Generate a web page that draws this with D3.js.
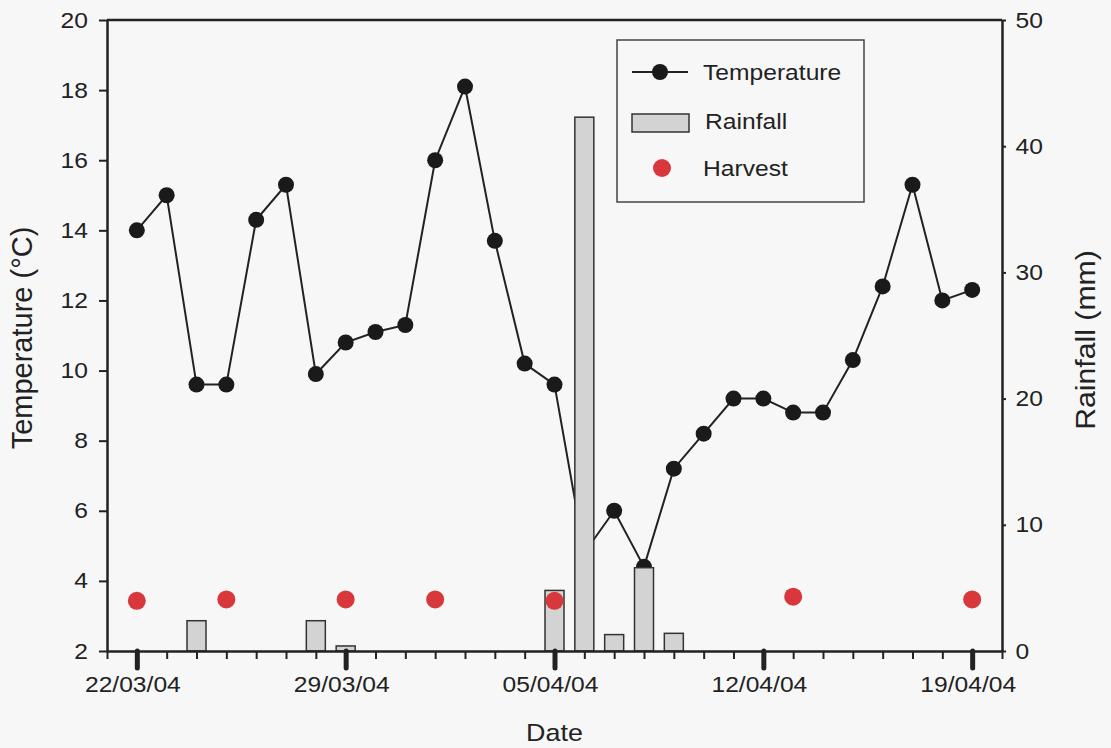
<!DOCTYPE html>
<html>
<head>
<meta charset="utf-8">
<script src="https://d3js.org/d3.v7.min.js"></script>
<style>
  body { margin: 0; background-color: #f7f7f7; }
  svg { font-family: "Liberation Sans", Arial, sans-serif; }
</style>
</head>
<body>
<script>
// temperature, one reading per day from 22/03/04 to 19/04/04
const tempDays = d3.timeDay.range(new Date(2004, 2, 22), new Date(2004, 3, 20))
const tempValues = [14.0, 15.0, 9.6, 9.6, 14.3, 15.3, 9.9, 10.8, 11.1, 11.3, 16.0, 18.1, 13.7, 10.2,
                    9.6, 4.8, 6.0, 4.4, 7.2, 8.2, 9.2, 9.2, 8.8, 8.8, 10.3, 12.4, 15.3, 12.0, 12.3]

// rainfall (mm)
const rainDates = ['24/03/04', '28/03/04', '29/03/04', '05/04/04', '06/04/04', '07/04/04', '08/04/04', '09/04/04']
const rainValues = [2.4, 2.4, 0.4, 4.8, 42.3, 1.3, 6.6, 1.4]

// harvest days (plotted against the temperature axis)
const harvestDates = ['22/03/04', '25/03/04', '29/03/04', '01/04/04', '05/04/04', '13/04/04', '19/04/04']
const harvestValues = [3.43, 3.47, 3.47, 3.47, 3.43, 3.55, 3.47]

const dateLabels = ['22/03/04', '29/03/04', '05/04/04', '12/04/04', '19/04/04']
const tempTicks = [2, 4, 6, 8, 10, 12, 14, 16, 18, 20]
const rainTicks = [0, 10, 20, 30, 40, 50]

const parse = d3.timeParse('%d/%m/%y')
const fmt = d3.timeFormat('%d/%m/%y')

const width = 1111, height = 748
const margin = { top: 20, right: 109, bottom: 97, left: 107 }
const ink = '#222'
const wide = 'scale(1.12,1)'   // the original font runs a bit wider than Liberation Sans

const svg = d3.select('body').append('svg')
    .attr('width', width)
    .attr('height', height)

const x = d3.scaleTime()
    .domain([new Date(2004, 2, 21), new Date(2004, 3, 20)])
    .range([margin.left, width - margin.right])
const yT = d3.scaleLinear().domain([2, 20]).range([height - margin.bottom, margin.top])
const yR = d3.scaleLinear().domain([0, 50]).range([height - margin.bottom, margin.top])

const temps = tempDays.map((d, i) => ({ date: d, v: tempValues[i] }))
const rain = rainDates.map((d, i) => ({ date: parse(d), v: rainValues[i] }))
const harvest = harvestDates.map((d, i) => ({ date: parse(d), v: harvestValues[i] }))

/* temperature line + markers */
svg.append('path')
    .datum(temps)
    .attr('fill', 'none')
    .attr('stroke', ink)
    .attr('stroke-width', 2)
    .attr('d', d3.line().x(d => x(d.date)).y(d => yT(d.v)))

svg.selectAll('.temp')
    .data(temps)
    .join('circle')
    .attr('class', 'temp')
    .attr('cx', d => x(d.date))
    .attr('cy', d => yT(d.v))
    .attr('r', 8)
    .attr('fill', '#1a1a1a')

/* rainfall bars */
const barW = 19
svg.selectAll('.bar')
    .data(rain)
    .join('rect')
    .attr('class', 'bar')
    .attr('x', d => x(d.date) - barW / 2)
    .attr('y', d => yR(d.v))
    .attr('width', barW)
    .attr('height', d => yR(0) - yR(d.v))
    .attr('fill', '#d3d3d3')
    .attr('stroke', '#333')
    .attr('stroke-width', 1.5)

/* harvest dots */
svg.selectAll('.harvest')
    .data(harvest)
    .join('circle')
    .attr('class', 'harvest')
    .attr('cx', d => x(d.date))
    .attr('cy', d => yT(d.v))
    .attr('r', 9)
    .attr('fill', '#d8383b')

/* axes */
const styleAxis = g => {
    g.select('.domain').attr('stroke', ink).attr('stroke-width', 2.5)
    g.selectAll('.tick line').attr('stroke', ink).attr('stroke-width', 2)
    g.selectAll('.tick text').attr('fill', ink).attr('font-size', 22).attr('transform', wide)
}

svg.append('g')
    .attr('transform', `translate(${margin.left},0)`)
    .call(d3.axisLeft(yT).tickValues(tempTicks).tickSize(8).tickPadding(9).tickSizeOuter(0))
    .call(styleAxis)

svg.append('g')
    .attr('transform', `translate(${width - margin.right},0)`)
    .call(d3.axisRight(yR).tickValues(rainTicks).tickSize(4).tickPadding(8).tickSizeOuter(0))
    .call(styleAxis)

// top frame line
svg.append('line')
    .attr('x1', margin.left).attr('x2', width - margin.right)
    .attr('y1', margin.top).attr('y2', margin.top)
    .attr('stroke', ink).attr('stroke-width', 2.5)

const majors = dateLabels.map(parse)
const xAxis = svg.append('g')
    .attr('transform', `translate(0,${height - margin.bottom})`)
    .call(d3.axisBottom(x).ticks(d3.timeDay.every(1)).tickSize(8).tickSizeOuter(0)
        .tickFormat(d => majors.some(m => +m === +d) ? fmt(d) : ''))
    .call(styleAxis)

xAxis.selectAll('.tick')
    .filter(d => majors.some(m => +m === +d))
    .call(t => t.select('line').attr('y2', 17).attr('stroke-width', 5).attr('stroke-linecap', 'round'))
    .call(t => t.select('text').attr('dy', '0.71em').attr('y', 25).attr('x', -4))

/* axis titles */
const title = (tx, ty, rot, size, stretch, label) => svg.append('text')
    .attr('transform', `translate(${tx},${ty}) rotate(${rot}) scale(${stretch},1)`)
    .attr('text-anchor', 'middle')
    .attr('font-size', size)
    .attr('fill', ink)
    .text(label)

title(x(new Date(2004, 3, 5)), 741, 0, 24, 1.12, 'Date')
title(32, 338, -90, 29, 1.0, 'Temperature (°C)')
title(1095, 340, -90, 27, 1.12, 'Rainfall (mm)')

/* legend */
const lg = svg.append('g').attr('transform', 'translate(617,40)')
lg.append('rect')
    .attr('width', 247).attr('height', 162)
    .attr('fill', 'none').attr('stroke', '#444').attr('stroke-width', 1.5)

lg.append('line').attr('x1', 15).attr('x2', 71).attr('y1', 32).attr('y2', 32)
    .attr('stroke', ink).attr('stroke-width', 2)
lg.append('circle').attr('cx', 43).attr('cy', 32).attr('r', 8).attr('fill', '#1a1a1a')
lg.append('rect').attr('x', 15).attr('y', 74).attr('width', 57).attr('height', 18)
    .attr('fill', '#d3d3d3').attr('stroke', '#333').attr('stroke-width', 1.5)
lg.append('circle').attr('cx', 45).attr('cy', 128).attr('r', 9).attr('fill', '#d8383b')

const legendText = ['Temperature', 'Rainfall', 'Harvest']
const legendX = [86, 88, 86]
const legendY = [32, 81, 128]
lg.selectAll('.lt')
    .data(legendText)
    .join('text')
    .attr('class', 'lt')
    .attr('transform', (d, i) => `translate(${legendX[i]},${legendY[i]}) ${wide}`)
    .attr('dy', '0.35em')
    .attr('font-size', 22)
    .attr('fill', ink)
    .text(d => d)
</script>
</body>
</html>
